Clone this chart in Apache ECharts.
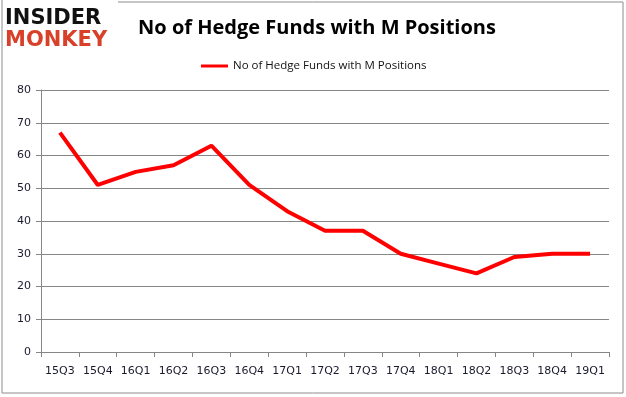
<!DOCTYPE html>
<html>
<head>
<meta charset="utf-8">
<script src="https://cdn.jsdelivr.net/npm/echarts@6/dist/echarts.min.js"></script>
<style>
  html, body { margin: 0; padding: 0; background: #fff; }
</style>
</head>
<body>
<div id="main" style="width: 626px;height:397px;"></div>
<script>
    // chart data
    var quarters = ['15Q3', '15Q4', '16Q1', '16Q2', '16Q3', '16Q4', '17Q1', '17Q2', '17Q3', '17Q4', '18Q1', '18Q2', '18Q3', '18Q4', '19Q1'];
    var fundCounts = [67, 51, 55, 57, 63, 51, 43, 37, 37, 30, 27, 24, 29, 30, 30];
    var seriesName = 'No of Hedge Funds with M Positions';

    var myChart = echarts.init(document.getElementById('main'));
    var option = {
        animation: false,
        title: {
            text: seriesName,
            left: 312,
            top: 13,
            textAlign: 'center',
            textStyle: {
                fontFamily: 'Open Sans',
                fontWeight: 'bold',
                fontSize: 20,
                color: '#000'
            }
        },
        legend: {
            data: [seriesName],
            top: 55,
            left: 196,
            itemWidth: 27,
            itemHeight: 3,
            itemGap: 4,
            icon: 'rect',
            textStyle: {
                fontFamily: 'Open Sans',
                fontSize: 11.5,
                color: '#111'
            }
        },
        graphic: [
            {
                type: 'rect',
                shape: { x: 2, y: 2, width: 621, height: 391 },
                style: { fill: 'none', stroke: '#8c8c8c', lineWidth: 1 },
                silent: true
            },
            {
                type: 'rect',
                shape: { x: 0, y: 0, width: 118, height: 54 },
                style: { fill: '#fff' },
                silent: true
            },
            {
                type: 'line',
                shape: { x1: 2, y1: 0, x2: 2, y2: 54 },
                style: { stroke: '#8c8c8c', lineWidth: 1 }
            },
            {
                type: 'text',
                left: 5,
                top: 8,
                style: {
                    text: 'INSIDER',
                    fontFamily: 'DejaVu Sans',
                    fontWeight: 'bold',
                    fontSize: 21,
                    fill: '#111'
                }
            },
            {
                type: 'text',
                left: 5,
                top: 30,
                style: {
                    text: 'MONKEY',
                    fontFamily: 'DejaVu Sans',
                    fontWeight: 'bold',
                    fontSize: 21,
                    fill: '#d8402a'
                }
            }
        ],
        grid: {
            left: 41,
            right: 17,
            top: 90,
            bottom: 45,
            containLabel: false
        },
        xAxis: {
            type: 'category',
            data: quarters,
            boundaryGap: true,
            axisLine: { lineStyle: { color: '#868686' } },
            axisTick: { show: true, length: 5, interval: 0, lineStyle: { color: '#868686' } },
            axisLabel: {
                interval: 0,
                margin: 14,
                fontFamily: 'DejaVu Sans',
                fontSize: 11,
                color: '#1a1a2e'
            }
        },
        yAxis: {
            type: 'value',
            min: 0,
            max: 80,
            interval: 10,
            axisLine: { show: true, lineStyle: { color: '#868686' } },
            axisTick: { show: true, length: 5, lineStyle: { color: '#868686' } },
            splitLine: { lineStyle: { color: '#868686' } },
            axisLabel: {
                margin: 10,
                fontFamily: 'DejaVu Sans',
                fontSize: 11,
                color: '#1a1a2e'
            }
        },
        series: [{
            name: seriesName,
            type: 'line',
            data: fundCounts,
            showSymbol: false,
            symbol: 'none',
            lineStyle: { color: '#ff0000', width: 4 },
            itemStyle: { color: '#ff0000' }
        }]
    };
    myChart.setOption(option);
</script>
</body>
</html>
